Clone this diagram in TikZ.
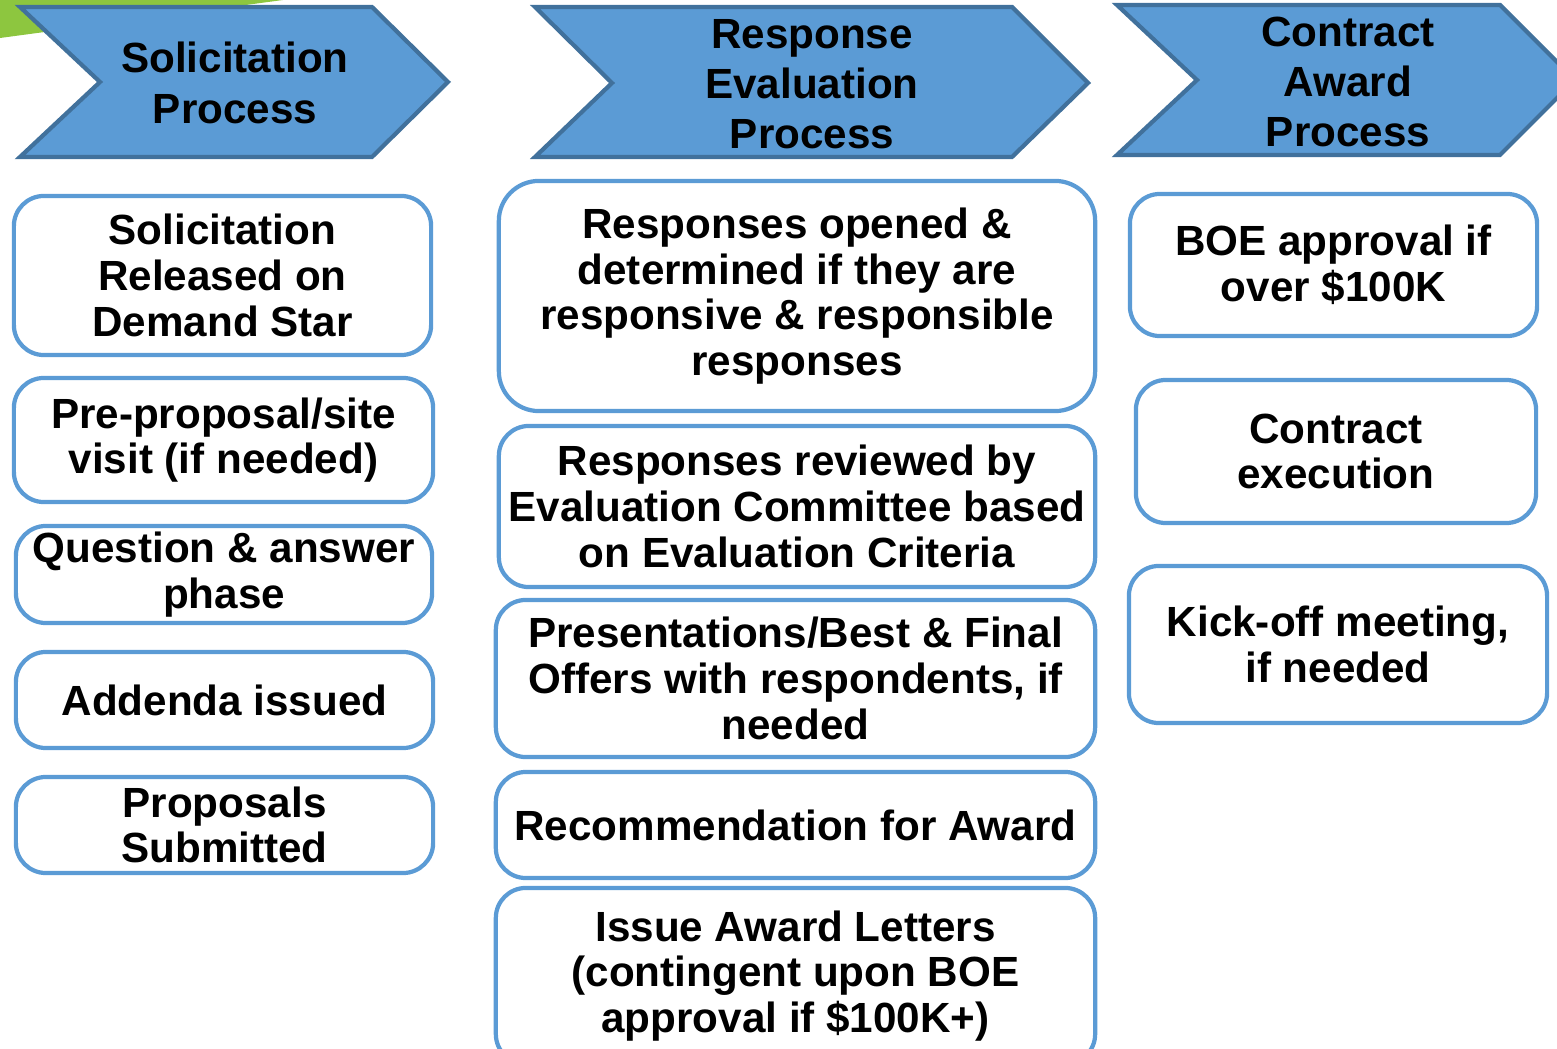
\documentclass[tikz,border=0pt]{standalone}
\usepackage{fontspec}
\setmainfont{Liberation Sans}
\definecolor{boxblue}{RGB}{91,155,213}
\definecolor{chevline}{RGB}{65,113,156}
\definecolor{leafgreen}{RGB}{141,198,63}

\begin{document}
\begin{tikzpicture}[x=0.01cm,y=-0.01cm,
  stagebox/.style={draw=boxblue,line width=1.2pt,rounded corners=0.3cm,fill=white,
    align=center,inner sep=0pt,font=\bfseries\fontsize{12}{13}\selectfont},
  chevron/.style={fill=boxblue,draw=chevline,line width=1.2pt,line join=miter},
  chevtext/.style={align=center,inner sep=0pt,font=\bfseries\fontsize{12}{14.3}\selectfont}]
\useasboundingbox (0,0) rectangle (1557,1049);
\fill[leafgreen] (0,0) -- (283,0) -- (0,38) -- cycle;

% stage headers
\draw[chevron] (20,7) -- (372,7) -- (448,82) -- (372,157) -- (20,157) -- (100,82) -- cycle;
\node[chevtext] (solhead) at (235,83) {Solicitation\\Process};

\draw[chevron] (535,7) -- (1012,7) -- (1088,83) -- (1012,157) -- (535,157) -- (612,83) -- cycle;
\node[chevtext] (evalhead) at (812,84) {Response\\Evaluation\\Process};

\draw[chevron] (1117,5) -- (1500,5) -- (1575,80) -- (1500,155) -- (1117,155) -- (1197,80) -- cycle;
\node[chevtext] (awardhead) at (1348,82) {Contract\\Award\\Process};

% solicitation steps
\node[stagebox,minimum width=4.17cm,minimum height=1.59cm] (sol1) at (222.5,275.5) {Solicitation\\Released on\\Demand Star};
\node[stagebox,minimum width=4.19cm,minimum height=1.24cm] (sol2) at (223.5,440) {Pre-proposal/site\\visit (if needed)};
\node[stagebox,minimum width=4.16cm,minimum height=0.97cm] (sol3) at (224,574.5) {Question \& answer\\phase};
\node[stagebox,minimum width=4.17cm,minimum height=0.96cm] (sol4) at (224.5,700) {Addenda issued};
\node[stagebox,minimum width=4.17cm,minimum height=0.96cm] (sol5) at (224.5,825) {Proposals\\Submitted};

% evaluation steps
\node[stagebox,minimum width=5.96cm,minimum height=2.30cm,rounded corners=0.4cm] (eval1) at (797,296) {Responses opened \&\\determined if they are\\responsive \& responsible\\responses};
\node[stagebox,minimum width=5.96cm,minimum height=1.61cm] (eval2) at (797,506.5) {Responses reviewed by\\Evaluation Committee based\\on Evaluation Criteria};
\node[stagebox,minimum width=5.99cm,minimum height=1.57cm] (eval3) at (795.5,678.5) {Presentations/Best \& Final\\Offers with respondents, if\\needed};
\node[stagebox,minimum width=5.99cm,minimum height=1.06cm] (eval4) at (795.5,825) {Recommendation for Award};
\node[stagebox,minimum width=5.99cm,minimum height=1.76cm] (eval5) at (795.5,976) {Issue Award Letters\\(contingent upon BOE\\approval if \$100K+)};

% award steps
\node[stagebox,minimum width=4.07cm,minimum height=1.42cm] (award1) at (1333.5,265) {BOE approval if\\over \$100K};
\node[stagebox,minimum width=4.00cm,minimum height=1.43cm] (award2) at (1336,451.5) {Contract\\execution};
\node[stagebox,minimum width=4.18cm,minimum height=1.57cm] (award3) at (1338,644.5) {Kick-off meeting,\\if needed};
\end{tikzpicture}
\end{document}
